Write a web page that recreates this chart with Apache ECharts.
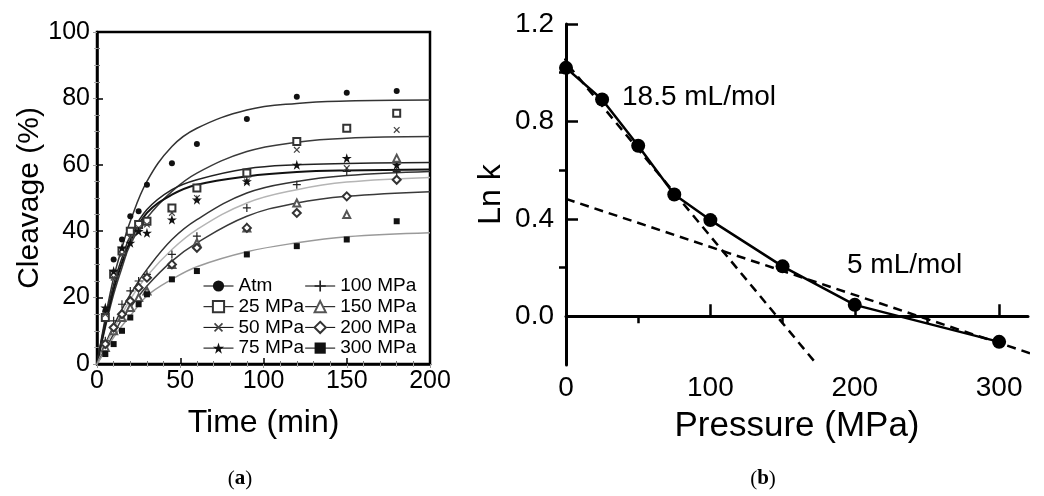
<!DOCTYPE html>
<html><head><meta charset="utf-8">
<script src="https://cdn.jsdelivr.net/npm/echarts@6/dist/echarts.min.js"></script>
<style>html,body{margin:0;padding:0;background:#fff}#c{width:1044px;height:496px}</style>
</head><body><div id="c"></div>
<script>
// ---------- Panel (a) data ----------
const conditions = ['Atm','25 MPa','50 MPa','75 MPa','100 MPa','150 MPa','200 MPa','300 MPa'];
const pointTimes = [5,10,15,20,25,30,45,60,90,120,150,180];
const ptAtm  = [16,31.5,37.5,44.5,46,54,60.5,66.3,73.8,80.5,81.7,82.2];
const pt25   = [14,27,34,40,42,43,47,53,57.5,67,71,75.5];
const pt50   = [15,26,33,38,41,42,45.5,50,55,64.5,59,70.5];
const pt75   = [17,28,35,36.5,40,39.5,43.5,49.5,55,60,62,60];
const pt100  = [7,13,18,22,25,27,33,38.5,47,54,58,58];
const pt150  = [5,10,14,17,20,22,30,36.5,41,48.5,45,62];
const pt200  = [6,11,15,19,23,26,30,35,41,45.5,50.5,55.5];
const pt300  = [3,6,10,14,18,21,25.5,28,33,35.5,37.5,43];

const fitTimes = [0,5,10,15,20,30,45,60,90,120,150,200];
const fitAtm = [0,14,26,35,43,55,65.5,71,76.5,78.5,79.2,79.5];
const fit25  = [0,11,21,29,36,44,52,57.5,64,66.8,68,68.5];
const fit50  = [0,12,22.5,30.5,37,45.5,51,54,56.5,57.8,58.3,58.6];
const fit75  = [0,13,24,32,38.5,46.5,52.5,55.5,58.8,60,60.4,60.7];
const fit100 = [0,6,11.5,16.5,21,28.5,37.5,43.5,51.5,55,56.8,58];
const fit150 = [0,5.5,10.5,15,19.5,26.5,34.5,40.5,48.5,52.5,54.8,56.2];
const fit200 = [0,4.5,9,13.5,17,23.5,31,36.5,44.5,48.5,50.5,51.9];
const fit300 = [0,4,8,11.5,14.5,20.5,25.5,29.3,33.8,36.5,38.3,39.5];

const timeTicks = [0,50,100,150,200];
const cleavageTicks = [0,20,40,60,80,100];

// ---------- Panel (b) data ----------
const pressure = [0,25,50,75,100,150,200,300];
const lnK = [1.02,0.89,0.70,0.50,0.395,0.205,0.047,-0.105];
const steepFitX = [-5,172];
const steepFitY = [1.078,-0.185];
const shallowFitX = [0,322];
const shallowFitY = [0.482,-0.153];
const pressureLabels = [0,100,200,300];
const pressureMinor = [50,150,250];
const lnKLabels = [0,0.4,0.8,1.2];
const lnKMinor = [0.2,0.6,1.0];

// ---------- styles ----------
const FONT = 'Liberation Sans, Arial, sans-serif';
const STAR = 'path://M50,2 L61,38 L98,38 L68,60 L79,96 L50,74 L21,96 L32,60 L2,38 L39,38 Z';
const PLUS = 'path://M8.5,0h3v20h-3z M0,8.5h20v3h-20z';
const pointSets = [ptAtm,pt25,pt50,pt75,pt100,pt150,pt200,pt300];
const fitSets = [fitAtm,fit25,fit50,fit75,fit100,fit150,fit200,fit300];
const symbols = ['circle','emptyRect',PLUS,STAR,PLUS,'emptyTriangle','emptyDiamond','rect'];
const rotations = [0,0,45,0,0,0,0,0];
const symSizes = [6,7,8,10,8,7,8,6];
const ptColors = ['#111','#333','#444','#111','#222','#555','#333','#111'];
const fitColors = ['#333','#3a3a3a','#111','#222','#333','#b5b5b5','#3a3a3a','#9a9a9a'];
const fitWidths = [1.5,1.5,2,1.5,1.5,1.5,1.5,1.5];

const series = [];
conditions.forEach((name,i)=>{
  series.push({
    name: name+' fit', type:'line', xAxisIndex:0, yAxisIndex:0,
    data: fitTimes.map((t,j)=>[t,fitSets[i][j]]),
    smooth:0.4, showSymbol:false, silent:true, z:2,
    lineStyle:{color:fitColors[i], width:fitWidths[i]}
  });
});
conditions.forEach((name,i)=>{
  series.push({
    name: name, type:'line', xAxisIndex:0, yAxisIndex:0,
    data: pointTimes.map((t,j)=>[t,pointSets[i][j]]),
    symbol: symbols[i], symbolSize: symSizes[i], symbolRotate: rotations[i],
    showSymbol:true, z:5,
    itemStyle:{color:ptColors[i], borderWidth:1.2},
    lineStyle:{width:0, opacity:0}
  });
});
// Panel (b)
series.push({
  name:'fit steep', type:'line', xAxisIndex:1, yAxisIndex:1, clip:false, showSymbol:false,
  data: steepFitX.map((x,j)=>[x,steepFitY[j]]),
  lineStyle:{color:'#000', width:2.5, type:[9,6]}, z:2
});
series.push({
  name:'fit shallow', type:'line', xAxisIndex:1, yAxisIndex:1, clip:false, showSymbol:false,
  data: shallowFitX.map((x,j)=>[x,shallowFitY[j]]),
  lineStyle:{color:'#000', width:2.5, type:[9,6]}, z:2
});
series.push({
  name:'lnk', type:'line', xAxisIndex:1, yAxisIndex:1,
  data: pressure.map((p,j)=>[p,lnK[j]]),
  symbol:'circle', symbolSize:14, showSymbol:true,
  itemStyle:{color:'#000'}, lineStyle:{color:'#000', width:2.5}, z:4
});

const option = {
  animation:false,
  backgroundColor:'#fff',
  textStyle:{fontFamily:FONT, color:'#000'},
  grid:[
    {left:97, top:32, width:333, height:332, show:true, borderColor:'#000', borderWidth:2.5, backgroundColor:'transparent'},
    {left:566, top:24, width:462, height:341}
  ],
  legend:{
    data: conditions, orient:'vertical', left:203, top:276, height:84,
    itemWidth:30, itemHeight:14, itemGap:0.7, padding:0, selectedMode:false,
    textStyle:{fontSize:19, color:'#000', fontFamily:FONT, lineHeight:20},
    lineStyle:{color:'#000', width:1, opacity:1, type:'solid'}
  },
  xAxis:[
    {gridIndex:0, type:'value', min:timeTicks[0], max:timeTicks[timeTicks.length-1], interval:50,
     name:'Time (min)', nameLocation:'middle', nameGap:43,
     nameTextStyle:{fontSize:32, color:'#000'},
     axisLine:{lineStyle:{color:'#000', width:2.5}},
     axisTick:{inside:true, length:6, lineStyle:{color:'#000', width:1.5}},
     minorTick:{show:true, splitNumber:5, length:3, lineStyle:{color:'#777', width:1}},
     axisLabel:{fontSize:25, color:'#000', margin:5},
     splitLine:{show:false}},
    {gridIndex:1, type:'value', min:0, max:320,
     name:'Pressure (MPa)', nameLocation:'middle', nameGap:44,
     nameTextStyle:{fontSize:35, color:'#000'},
     axisLine:{lineStyle:{color:'#000', width:3}},
     axisTick:{inside:true, length:12, customValues:pressureLabels, lineStyle:{color:'#000', width:2.5}},
     axisLabel:{fontSize:28, color:'#000', margin:9, customValues:pressureLabels},
     splitLine:{show:false}},
    {gridIndex:1, type:'value', min:0, max:320,
     axisLine:{show:false},
     axisTick:{inside:true, length:7, customValues:pressureMinor, lineStyle:{color:'#000', width:2.5}},
     axisLabel:{show:false}, splitLine:{show:false}},
    {gridIndex:0, type:'value', position:'top', min:timeTicks[0], max:timeTicks[timeTicks.length-1], interval:50,
     axisLine:{show:false},
     axisTick:{inside:true, length:4, lineStyle:{color:'#999', width:1}},
     minorTick:{show:true, splitNumber:5, length:3, lineStyle:{color:'#aaa', width:1}},
     axisLabel:{show:false}, splitLine:{show:false}}
  ],
  yAxis:[
    {gridIndex:0, type:'value', min:cleavageTicks[0], max:cleavageTicks[cleavageTicks.length-1], interval:20,
     name:'Cleavage (%)', nameLocation:'middle', nameGap:50,
     nameTextStyle:{fontSize:30, color:'#000'},
     axisLine:{lineStyle:{color:'#000', width:2.5}},
     axisTick:{inside:true, length:6, lineStyle:{color:'#000', width:1.5}},
     minorTick:{show:true, splitNumber:4, length:3, lineStyle:{color:'#777', width:1}},
     axisLabel:{fontSize:25, color:'#000', margin:7},
     splitLine:{show:false}},
    {gridIndex:1, type:'value', min:-0.2, max:1.2,
     name:'Ln k', nameLocation:'middle', nameGap:59,
     nameTextStyle:{fontSize:32, color:'#000'},
     axisLine:{lineStyle:{color:'#000', width:3}},
     axisTick:{inside:true, length:12, customValues:lnKLabels, lineStyle:{color:'#000', width:2.5}},
     axisLabel:{fontSize:28, color:'#000', margin:12, customValues:lnKLabels, formatter:(v)=>Number(v).toFixed(1)},
     splitLine:{show:false}},
    {gridIndex:1, type:'value', min:-0.2, max:1.2,
     axisLine:{show:false},
     axisTick:{inside:true, length:7, customValues:lnKMinor, lineStyle:{color:'#000', width:2.5}},
     axisLabel:{show:false}, splitLine:{show:false}},
    {gridIndex:0, type:'value', position:'right', min:cleavageTicks[0], max:cleavageTicks[cleavageTicks.length-1], interval:20,
     axisLine:{show:false},
     axisTick:{inside:true, length:4, lineStyle:{color:'#999', width:1}},
     minorTick:{show:true, splitNumber:4, length:3, lineStyle:{color:'#aaa', width:1}},
     axisLabel:{show:false}, splitLine:{show:false}}
  ],
  graphic:[
    {type:'text', left:622, top:83, style:{text:'18.5 mL/mol', fontSize:28, fontFamily:FONT, fill:'#000'}},
    {type:'text', left:847, top:251, style:{text:'5 mL/mol', fontSize:28, fontFamily:FONT, fill:'#000'}},
    {type:'text', x:240, y:479, style:{text:'{n|(}{b|a}{n|)}', align:'center', verticalAlign:'middle',
      rich:{n:{fontSize:21, fontFamily:'Liberation Serif, serif', fill:'#000'}, b:{fontSize:21, fontWeight:'bold', fontFamily:'Liberation Serif, serif', fill:'#000'}}}},
    {type:'text', x:763, y:479, style:{text:'{n|(}{b|b}{n|)}', align:'center', verticalAlign:'middle',
      rich:{n:{fontSize:21, fontFamily:'Liberation Serif, serif', fill:'#000'}, b:{fontSize:21, fontWeight:'bold', fontFamily:'Liberation Serif, serif', fill:'#000'}}}}
  ],
  series: series
};
const chart = echarts.init(document.getElementById('c'), null, {renderer:'canvas'});
chart.setOption(option);
</script>
</body></html>
